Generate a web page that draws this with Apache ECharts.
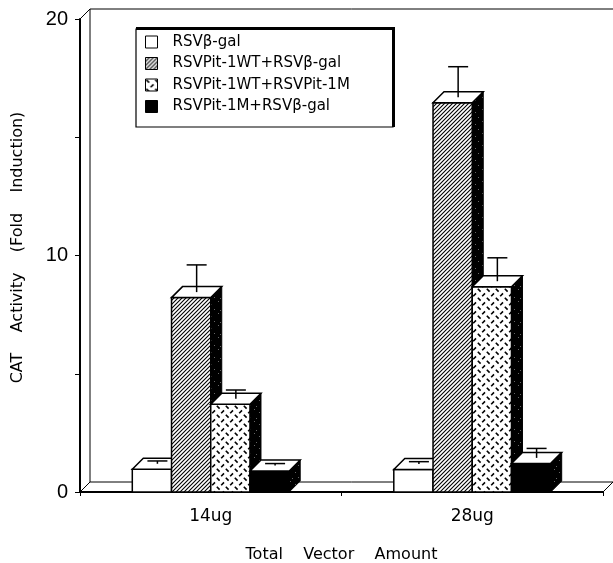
<!DOCTYPE html>
<html><head><meta charset="utf-8">
<script src="https://cdn.jsdelivr.net/npm/echarts@6/dist/echarts.min.js"></script>
<style>html,body{margin:0;padding:0;background:#fff}#c{width:613px;height:563px}</style>
</head><body><div id="c"></div>
<script>
// ---- data ----
const categories = ['14ug', '28ug'];
const seriesNames = ['RSVβ-gal', 'RSVPit-1WT+RSVβ-gal', 'RSVPit-1WT+RSVPit-1M', 'RSVPit-1M+RSVβ-gal'];
const betaGal = [0.96, 0.95];
const pitWtBetaGal = [8.22, 16.46];
const pitWtPitM = [3.71, 8.68];
const pitMBetaGal = [0.89, 1.21];
const errBetaGal = [0.12, 0.10];
const errPitWtBetaGal = [1.15, 1.29];
const errPitWtPitM = [0.37, 0.99];
const errPitMBetaGal = [0.08, 0.40];
const yTickLabels = [0, 10, 20];

// ---- patterns ----
function makeCanvas(w, h, draw) {
  const c = document.createElement('canvas');
  c.width = w; c.height = h;
  const g = c.getContext('2d');
  draw(g);
  return c;
}
const hatchCanvas = makeCanvas(4, 4, g => {
  g.fillStyle = '#fff'; g.fillRect(0, 0, 4, 4);
  g.strokeStyle = '#000'; g.lineWidth = 1.1;
  g.beginPath();
  g.moveTo(0, 4); g.lineTo(4, 0);
  g.moveTo(-1, 1); g.lineTo(1, -1);
  g.moveTo(3, 5); g.lineTo(5, 3);
  g.stroke();
});
const crossCanvas = makeCanvas(9, 9, g => {
  g.fillStyle = '#fff'; g.fillRect(0, 0, 9, 9);
  g.strokeStyle = '#000'; g.lineWidth = 1.6; g.lineCap = 'butt';
  g.beginPath();
  g.moveTo(0.8, 0.8); g.lineTo(3.6, 3.6);
  g.moveTo(5.2, 8.2); g.lineTo(8.0, 5.4);
  g.stroke();
});
const speckleCanvas = makeCanvas(12, 12, g => {
  g.fillStyle = '#000'; g.fillRect(0, 0, 12, 12);
  g.fillStyle = '#666';
  [[2,1],[7,4],[10,9],[4,10]].forEach(p => g.fillRect(p[0], p[1], 1, 1));
});
const fills = [
  '#ffffff',
  { image: hatchCanvas, repeat: 'repeat' },
  { image: crossCanvas, repeat: 'repeat' },
  '#000000'
];
const sideFill = { image: speckleCanvas, repeat: 'repeat' };

const valueSets = [betaGal, pitWtBetaGal, pitWtPitM, pitMBetaGal];
const errSets = [errBetaGal, errPitWtBetaGal, errPitWtPitM, errPitMBetaGal];

const BAR_FRACTION = 0.15;
const BAR_DEPTH = 11;
const WALL_DEPTH = 10;
const CAP_HALF = 10;

function barRenderer(si) {
  return function (params, api) {
    const cat = api.value(0), v = api.value(1), e = api.value(2);
    const base = api.coord([cat, 0]);
    const top = api.coord([cat, v]);
    const band = api.size([1, 0])[0];
    const w = band * BAR_FRACTION;
    const x0 = base[0] - 2 * w + si * w;
    const x1 = x0 + w;
    const yT = top[1], yB = base[1];
    const d = BAR_DEPTH;
    const cx = (x0 + x1) / 2 + d / 2;
    const cy = yT - d / 2;
    const yE = api.coord([cat, v + e])[1] - d / 2;
    return {
      type: 'group',
      children: [
        { type: 'polygon', shape: { points: [[x1, yB], [x1, yT], [x1 + d, yT - d], [x1 + d, yB - d]] },
          style: { fill: sideFill, stroke: '#000', lineWidth: 1 } },
        { type: 'rect', shape: { x: x0, y: yT, width: w, height: yB - yT },
          style: { fill: fills[si], stroke: '#000', lineWidth: 1.5 } },
        { type: 'polygon', shape: { points: [[x0, yT], [x1, yT], [x1 + d, yT - d], [x0 + d, yT - d]] },
          style: { fill: '#fff', stroke: '#000', lineWidth: 1.5 } },
        { type: 'line', shape: { x1: cx, y1: cy, x2: cx, y2: yE }, style: { stroke: '#000', lineWidth: 1.5 } },
        { type: 'line', shape: { x1: cx - CAP_HALF, y1: yE, x2: cx + CAP_HALF, y2: yE }, style: { stroke: '#000', lineWidth: 1.5 } }
      ]
    };
  };
}

function frameRenderer(params, api) {
  const cs = params.coordSys;
  const D = WALL_DEPTH;
  const L = cs.x, T = cs.y, R = cs.x + cs.width, B = cs.y + cs.height;
  const st = { stroke: '#000', lineWidth: 1 };
  const ln = (a, b, c, d2) => ({ type: 'line', shape: { x1: a, y1: b, x2: c, y2: d2 }, style: st });
  return {
    type: 'group',
    children: [
      ln(L + D, T - D, L + D, B - D),
      ln(L + D, T - D, R + D, T - D),
      ln(L, T, L + D, T - D),
      ln(L + D, B - D, R + D, B - D),
      ln(L, B, L + D, B - D),
      ln(R, B, R + D, B - D)
    ]
  };
}

const series = [{
  type: 'custom', name: 'frame', silent: true, z: 1,
  renderItem: frameRenderer, data: [[0, 0]], encode: { x: 0, y: 1 }
}];
seriesNames.forEach((name, si) => {
  series.push({
    type: 'custom', name: name, z: 2,
    renderItem: barRenderer(si),
    encode: { x: 0, y: 1 },
    itemStyle: { color: fills[si], borderColor: '#000', borderWidth: 1 },
    data: categories.map((c, i) => [i, valueSets[si][i], errSets[si][i]])
  });
});

const chart = echarts.init(document.getElementById('c'));
chart.setOption({
  animation: false,
  backgroundColor: '#fff',
  grid: { left: 80, right: 10, top: 19, bottom: 71, containLabel: false, outerBoundsMode: 'none' },
  xAxis: {
    type: 'category', data: categories,
    axisLine: { lineStyle: { color: '#000', width: 2 } },
    axisTick: { show: true, length: 4, lineStyle: { color: '#000' } },
    axisLabel: { color: '#000', fontFamily: 'DejaVu Sans', fontSize: 17, margin: 16 },
    name: 'Total    Vector    Amount', nameLocation: 'middle', nameGap: 55,
    nameTextStyle: { color: '#000', fontFamily: 'DejaVu Sans', fontSize: 16 }
  },
  yAxis: {
    type: 'value', min: 0, max: 20, interval: 5,
    axisLine: { show: true, lineStyle: { color: '#000', width: 2 } },
    axisTick: { show: true, length: 5, lineStyle: { color: '#000' } },
    splitLine: { show: false },
    axisLabel: { color: '#000', fontFamily: 'Liberation Sans', fontSize: 20, margin: 12,
      formatter: v => (yTickLabels.indexOf(v) >= 0 ? String(v) : '') },
    name: 'CAT    Activity    (Fold    Induction)', nameLocation: 'middle', nameGap: 54, nameRotate: 90,
    nameTextStyle: { color: '#000', fontFamily: 'DejaVu Sans', fontSize: 16, padding: [0, 0, 0, 16] }
  },
  legend: {
    orient: 'vertical', left: 145, top: 34, itemWidth: 12, itemHeight: 12, itemGap: 5.5,
    padding: 0, icon: 'rect', z: 10,
    textStyle: { color: '#000', fontFamily: 'DejaVu Sans', fontSize: 15, lineHeight: 16, padding: [0, 0, 0, 10] },
    data: seriesNames.map((n, si) => ({ name: n, icon: 'rect',
      itemStyle: { color: fills[si], borderColor: '#000', borderWidth: 1 } }))
  },
  graphic: [
    { type: 'rect', z: 5, silent: true,
      shape: { x: 136, y: 29, width: 257, height: 98 },
      style: { fill: '#fff', stroke: '#000', lineWidth: 1.2 } },
    { type: 'line', z: 6, silent: true, shape: { x1: 136, y1: 28.5, x2: 394.5, y2: 28.5 },
      style: { stroke: '#000', lineWidth: 3 } },
    { type: 'line', z: 6, silent: true, shape: { x1: 393.5, y1: 27, x2: 393.5, y2: 127 },
      style: { stroke: '#000', lineWidth: 3 } }
  ],
  series: series
});
</script>
</body></html>
